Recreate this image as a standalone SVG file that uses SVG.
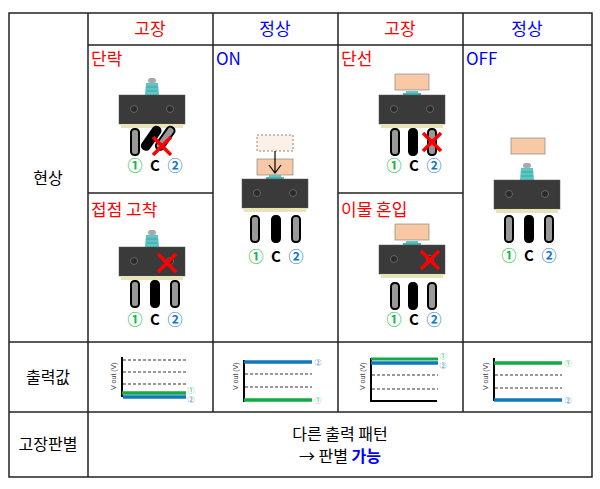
<svg xmlns="http://www.w3.org/2000/svg" xmlns:xlink="http://www.w3.org/1999/xlink" width="600" height="489" viewBox="0 0 600 489">
<style>
text{font-family:"Noto Sans CJK KR","Noto Sans",sans-serif}
.grid{stroke:#222;stroke-width:1.5;fill:none}
.hd{font-size:16px;text-anchor:middle}
.hh{font-size:17px;text-anchor:middle}
.red{fill:#f00}.blue{fill:#00f}
.lab{font-size:17px}
.num{font-size:15px;font-weight:bold;text-anchor:middle}
.dash{stroke:#333;stroke-width:1;stroke-dasharray:3,2}
.ax{stroke:#000;stroke-width:2;fill:none}
.yl{font-size:7px;fill:#444;font-family:"Liberation Sans",sans-serif}
.sm{font-size:7px}
</style>
<defs>
<g id="sw">
<rect x="-2" y="0" width="66" height="29" fill="#3a3a3a" stroke="#555" stroke-width="0.5"/>
<circle cx="13" cy="14" r="3.5" fill="#2a2a2a" stroke="#666"/>
<circle cx="49" cy="14" r="3.5" fill="#2a2a2a" stroke="#666"/>
<rect x="0" y="29" width="62" height="4" fill="#e8e4b8"/>
</g>
<g id="plg">
<rect x="25" y="-4" width="12" height="4" fill="#5cc6c6"/>
<rect x="22" y="-2" width="18" height="2" fill="#4ab0b0"/>
</g>
<g id="plgup">
<path d="M24,0 L25,-12 L37,-12 L38,0 Z" fill="#5cc6c6"/>
<path d="M25,-8 H37 M25,-4 H37" stroke="#3a9a9a" stroke-width="0.8"/>
<rect x="27" y="-17" width="8" height="5" rx="2.5" fill="#aaa"/>
</g>
<rect id="pg" x="0" y="0" width="8" height="26" rx="3.5" fill="#999" stroke="#000" stroke-width="2"/>
<rect id="pb" x="0" y="0" width="8" height="26" rx="3.5" fill="#000" stroke="#000" stroke-width="2"/>
<g id="x"><path d="M-9,-9 L9,9 M9,-9 L-9,9" stroke="#f00" stroke-width="3.5"/></g>
<g id="nums">
<text x="0" y="0" class="num" fill="#1b4">①</text>
<text x="20" y="0" class="num" fill="#000">C</text>
<text x="40" y="0" class="num" fill="#17c">②</text>
</g>
</defs>
<g id="table">
<rect x="9" y="13" width="583" height="464" class="grid"/>
<line x1="88" y1="13" x2="88" y2="477" class="grid"/>
<line x1="213" y1="13" x2="213" y2="412" class="grid"/>
<line x1="338" y1="13" x2="338" y2="412" class="grid"/>
<line x1="463" y1="13" x2="463" y2="412" class="grid"/>
<line x1="88" y1="45" x2="592" y2="45" class="grid"/>
<line x1="88" y1="193" x2="213" y2="193" class="grid"/>
<line x1="338" y1="193" x2="463" y2="193" class="grid"/>
<line x1="9" y1="342" x2="592" y2="342" class="grid"/>
<line x1="9" y1="412" x2="592" y2="412" class="grid"/>
</g>
<g id="headers">
<text x="150" y="35" class="hh red">고장</text>
<text x="275" y="35" class="hh blue">정상</text>
<text x="400" y="35" class="hh red">고장</text>
<text x="527" y="35" class="hh blue">정상</text>
<text x="48" y="184" class="hd">현상</text>
<text x="48" y="383" class="hd">출력값</text>
<text x="48" y="450" class="hd">고장판별</text>
</g>
<g id="cell-dan">
<text x="91" y="65" class="lab red">단락</text>
<use xlink:href="#plgup" x="121" y="95"/>
<use xlink:href="#sw" x="121" y="95"/>
<use xlink:href="#pg" x="131" y="129"/>
<g transform="rotate(35 158 132)"><use xlink:href="#pb" x="152" y="128"/></g>
<g transform="rotate(35 172 132)"><use xlink:href="#pg" x="166" y="128"/></g>
<use xlink:href="#x" x="162" y="146"/>
<use xlink:href="#nums" x="135" y="171"/>
</g>
<g id="cell-stick">
<text x="91" y="216" class="lab red">접점 고착</text>
<use xlink:href="#plgup" x="121" y="247"/>
<use xlink:href="#sw" x="121" y="247"/>
<use xlink:href="#pg" x="131" y="281"/>
<use xlink:href="#pb" x="151" y="281"/>
<use xlink:href="#pg" x="171" y="281"/>
<use xlink:href="#x" x="167" y="263"/>
<use xlink:href="#nums" x="135" y="325"/>
</g>
<g id="cell-on">
<text x="216" y="65" class="lab blue">ON</text>
<rect x="257" y="135" width="36" height="16" fill="#fdf0e6" stroke="#888" stroke-dasharray="2,2"/>
<rect x="257" y="159" width="36" height="16" fill="#f8c9a4" stroke="#888" stroke-width="0.7"/>
<path d="M275,151 V173 M269,165 L275,173 L281,165" stroke="#000" stroke-width="1.2" fill="none"/>
<use xlink:href="#plg" x="244" y="179"/>
<use xlink:href="#sw" x="244" y="179"/>
<use xlink:href="#pg" x="251" y="216"/>
<use xlink:href="#pb" x="272" y="216"/>
<use xlink:href="#pg" x="292" y="216"/>
<use xlink:href="#nums" x="256" y="262"/>
</g>
<g id="cell-open">
<text x="341" y="65" class="lab red">단선</text>
<rect x="395" y="74" width="34" height="16" fill="#f8c9a4" stroke="#888" stroke-width="0.7"/>
<use xlink:href="#plg" x="381" y="95"/>
<use xlink:href="#sw" x="381" y="95"/>
<use xlink:href="#pg" x="391" y="129"/>
<use xlink:href="#pb" x="409" y="129"/>
<use xlink:href="#pg" x="428" y="129"/>
<use xlink:href="#x" x="432" y="142"/>
<use xlink:href="#nums" x="394" y="171"/>
</g>
<g id="cell-foreign">
<text x="341" y="216" class="lab red">이물 혼입</text>
<rect x="395" y="224" width="34" height="16" fill="#f8c9a4" stroke="#888" stroke-width="0.7"/>
<use xlink:href="#plg" x="381" y="245"/>
<use xlink:href="#sw" x="381" y="245"/>
<use xlink:href="#pg" x="391" y="283"/>
<use xlink:href="#pb" x="409" y="283"/>
<use xlink:href="#pg" x="428" y="283"/>
<use xlink:href="#x" x="430" y="260"/>
<use xlink:href="#nums" x="394" y="325"/>
</g>
<g id="cell-off">
<text x="466" y="65" class="lab blue">OFF</text>
<rect x="511" y="138" width="34" height="16" fill="#f8c9a4" stroke="#888" stroke-width="0.7"/>
<use xlink:href="#plgup" x="496" y="180"/>
<use xlink:href="#sw" x="496" y="180"/>
<use xlink:href="#pg" x="505" y="216"/>
<use xlink:href="#pb" x="525" y="216"/>
<use xlink:href="#pg" x="545" y="216"/>
<use xlink:href="#nums" x="509" y="261"/>
</g>
<g id="graphs">
<text transform="translate(116,390) rotate(-90)" class="yl">V out (V)</text>
<line x1="122" y1="357" x2="122" y2="397" class="ax"/>
<line x1="123" y1="360" x2="186" y2="360" class="dash"/>
<line x1="123" y1="372" x2="186" y2="372" class="dash"/>
<line x1="123" y1="384" x2="186" y2="384" class="dash"/>
<line x1="122" y1="393" x2="186" y2="393" stroke="#1a4" stroke-width="3.5"/>
<line x1="123" y1="397" x2="186" y2="397" stroke="#17b" stroke-width="3.5"/>
<text x="191" y="393" class="sm" fill="#1b4" text-anchor="middle">①</text>
<text x="191" y="402" class="sm" fill="#17c" text-anchor="middle">②</text>

<text transform="translate(238,390) rotate(-90)" class="yl">V out (V)</text>
<line x1="244" y1="360" x2="244" y2="402" class="ax"/>
<line x1="244" y1="362" x2="312" y2="362" stroke="#17b" stroke-width="3.5"/>
<line x1="245" y1="374" x2="312" y2="374" class="dash"/>
<line x1="245" y1="387" x2="312" y2="387" class="dash"/>
<line x1="244" y1="400" x2="312" y2="400" stroke="#1a4" stroke-width="3.5"/>
<text x="318" y="365" class="sm" fill="#17c" text-anchor="middle">②</text>
<text x="318" y="403" class="sm" fill="#1b4" text-anchor="middle">①</text>

<text transform="translate(365,390) rotate(-90)" class="yl">V out (V)</text>
<line x1="371" y1="358" x2="371" y2="401" class="ax"/>
<line x1="370" y1="401" x2="437" y2="401" class="ax"/>
<line x1="371" y1="359" x2="438" y2="359" stroke="#1a4" stroke-width="3"/>
<line x1="371" y1="363" x2="438" y2="363" stroke="#17b" stroke-width="3.5"/>
<line x1="372" y1="375" x2="438" y2="375" class="dash"/>
<line x1="372" y1="389" x2="438" y2="389" class="dash"/>
<text x="443" y="359" class="sm" fill="#1b4" text-anchor="middle">①</text>
<text x="443" y="368" class="sm" fill="#17c" text-anchor="middle">②</text>

<text transform="translate(488,390) rotate(-90)" class="yl">V out (V)</text>
<line x1="494" y1="358" x2="494" y2="401" class="ax"/>
<line x1="494" y1="363" x2="562" y2="363" stroke="#1a4" stroke-width="3.5"/>
<line x1="495" y1="375" x2="562" y2="375" class="dash"/>
<line x1="495" y1="388" x2="562" y2="388" class="dash"/>
<line x1="494" y1="400" x2="562" y2="400" stroke="#17b" stroke-width="3.5"/>
<text x="568" y="366" class="sm" fill="#1b4" text-anchor="middle">①</text>
<text x="568" y="403" class="sm" fill="#17c" text-anchor="middle">②</text>
</g>
<g id="verdict">
<text x="340" y="440" class="hd">다른 출력 패턴</text>
<text x="340" y="462" class="hd">→ 판별 <tspan class="blue" font-weight="bold">가능</tspan></text>
</g>
</svg>
